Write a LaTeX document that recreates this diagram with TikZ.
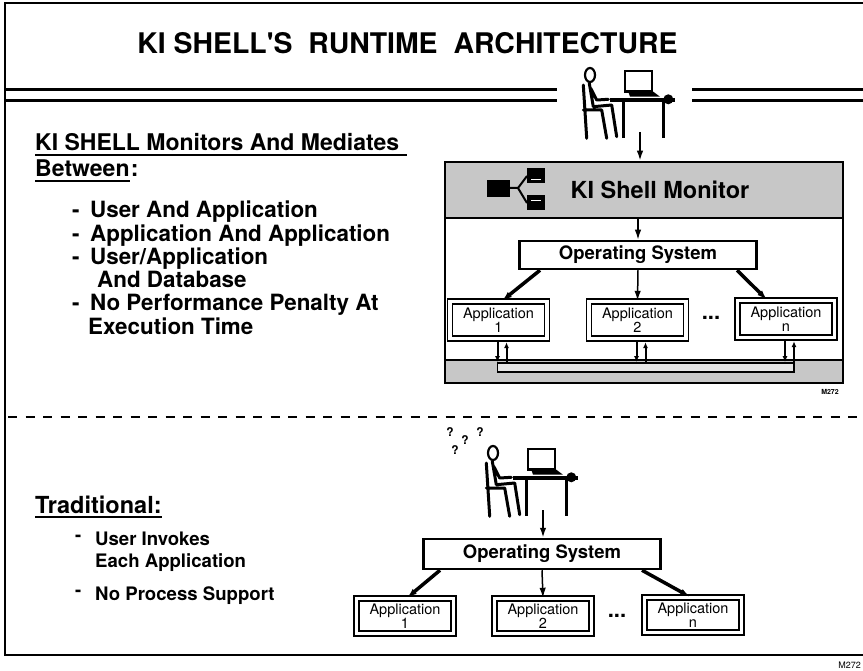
\documentclass[tikz,border=0pt]{standalone}
\usepackage{fontspec}
\setmainfont{TeX Gyre Heros}
\usepackage{tikz}
\usetikzlibrary{arrows.meta}
\definecolor{screen}{gray}{0.78}
\definecolor{pipe}{gray}{0.9}
\tikzset{ box/.style = {rectangle, draw, line width=2.5pt, inner sep=0pt} }
\tikzset{ os_box/.style = {box, minimum width=237pt, minimum height=28pt, font=\fontsize{18.5}{18}\selectfont\bfseries} }
\tikzset{ app_box/.style = {rectangle, draw, line width=1.4pt, double, double distance=3.5pt, minimum width=97pt, minimum height=37pt, inner sep=0pt, align=center, font=\fontsize{14.5}{14}\selectfont} }
\tikzset{ txt/.style = {inner sep=0pt, anchor=base west} }
\tikzset{ uline/.style = {line width=2pt} }
\tikzset{ small_tip/.style = {line width=2pt, >={Latex[length=6pt,width=5pt]}} }
\tikzset{ deskuser/.pic = {
    \draw[line width=2.2pt] (-50,-25) ellipse [x radius=5pt, y radius=7pt];
    \draw[line width=3pt, line cap=round, line join=round]
      (-56.7,-15) -- (-53.3,38.3)
      (-56.7,10) -- (-38.3,10) -- (-33.3,38.3)
      (-50.7,-16.7) -- (-46.7,6.7) -- (-28.3,5) -- (-23.3,36.7)
      (-49.3,-11.7) -- (-43.3,0) -- (-31.7,-0.7);
    \draw[line width=3.5pt] (-30,0) -- (35,0);
    \draw[line width=3pt] (-16.7,0) -- (-16.7,38.3) (23.3,0) -- (23.3,38.3);
    \draw[line width=2.8pt, fill=white] (-15,-29) rectangle (12,-8.3);
    \fill (-11.7,-8.3) -- (13.3,-8.3) -- (20,-3.3) -- (-10,-3.3) -- cycle;
    \fill (28.3,-0.7) circle [radius=5pt];
    \coordinate (-foot) at (0,32);
} }

\begin{document}
\begin{tikzpicture}[x=1pt, y=-1pt, >={Latex[length=10pt,width=6.5pt]}]
    \useasboundingbox (0,0) rectangle (863,671);
    \draw[line width=2.5pt] (863,3) -- (5,3) -- (5,655) -- (863,655);
    \draw[line width=3pt] (5,90) -- (557,90) (5,101) -- (557,101);
    \draw[line width=3pt] (692,90) -- (863,90) (692,101) -- (863,101);
    \draw[line width=2.5pt, dash pattern=on 9pt off 8.5pt] (8,417) -- (863,417);

    \node[font=\fontsize{28.4}{30}\selectfont\bfseries] (title) at (407.5,43) {KI SHELL\textquotesingle S\hspace{8pt} RUNTIME\hspace{8pt} ARCHITECTURE};

    % with the shell
    \node[txt, font=\fontsize{23}{23}\selectfont\bfseries] (h1) at (35,151) {KI SHELL Monitors And Mediates};
    \node[txt, font=\fontsize{23}{23}\selectfont\bfseries] (h2) at (35,177) {Between};
    \node[txt, font=\fontsize{23}{23}\selectfont\bfseries] (h2c) at ([xshift=1pt]h2.base east) {:};
    \draw[uline] ([yshift=-4pt]h1.base west) -- ([xshift=8pt,yshift=-4pt]h1.base east);
    \draw[uline] ([yshift=-4pt]h2.base west) -- ([yshift=-4pt]h2.base east);
    \node[txt, font=\fontsize{22.4}{22.4}\selectfont\bfseries] (l1) at (72,218) {\begin{tabular}[t]{@{}l@{\hspace{10.5pt}}l@{}}
        - & User And Application\\
        - & Application And Application\\
        - & User/Application\\
          & \hspace*{7pt}And Database\\
        - & No Performance Penalty At\\
          & \hspace*{-2pt}Execution Time
    \end{tabular}};

    \pic (top) at (640,100) {deskuser};
    \node[box, fill=white, minimum width=398pt, minimum height=221pt] (mon) at (644,272.5) {};
    \node[box, fill=screen, minimum width=398pt, minimum height=56pt] (hdr) at (644,190) {};
    \node[box, fill=screen, minimum width=398pt, minimum height=23pt] (bus) at (644,371.5) {};
    \node[box, fill=pipe, line width=1.8pt, minimum width=296.5pt, minimum height=9pt] (chan) at (645.75,367.5) {};
    \fill (487,180) rectangle (510,197);
    \fill (527,168) rectangle (545,183);
    \fill (527,195) rectangle (545,210);
    \draw[line width=2pt] (510,188) -- (518,188) -- (527,176) (518,188) -- (527,203);
    \draw[white, line width=1pt] (531,180) -- (541,180) (531,201) -- (541,201);
    \node[font=\fontsize{23.5}{24}\selectfont\bfseries] (mtxt) at (660,190) {KI Shell Monitor};
    \node[os_box] (os1) at (638,255) {Operating System};
    \node[app_box] (a1) at (498.5,320) {Application\\1};
    \node[app_box] (a2) at (637.5,320) {Application\\2};
    \node[app_box] (an) at (786,319) {Application\\n};
    \node[font=\fontsize{22}{22}\selectfont\bfseries] (d1) at (711,318) {...};
    \node[font=\fontsize{7}{7}\selectfont\bfseries] (c1) at (830,392) {M272};

    \draw[->, line width=1.8pt] (top-foot) -- (top-foot |- hdr.north);
    \draw[->, line width=1.5pt] (hdr.south -| os1.north) -- (os1.north);
    \draw[->, line width=3.5pt] ([xshift=-98pt]os1.south) -- ([xshift=3.5pt]a1.north);
    \draw[->, line width=1.5pt] (os1.south) -- (a2.north);
    \draw[->, line width=3.5pt] ([xshift=99pt]os1.south) -- ([xshift=-19pt]an.north);
    \draw[->, small_tip] ([xshift=-1pt,yshift=-3pt]a1.south) -- ([xshift=-1pt]a1.south |- chan.north);
    \draw[<-, small_tip] ([xshift=8pt,yshift=-3pt]a1.south) -- ([xshift=8pt]a1.south |- chan.north);
    \draw[->, small_tip] ([xshift=-1pt,yshift=-3pt]a2.south) -- ([xshift=-1pt]a2.south |- chan.north);
    \draw[<-, small_tip] ([xshift=8pt,yshift=-3pt]a2.south) -- ([xshift=8pt]a2.south |- chan.north);
    \draw[->, small_tip] ([xshift=-1pt,yshift=-3pt]an.south) -- ([xshift=-1pt]an.south |- chan.north);
    \draw[<-, small_tip] ([xshift=8pt,yshift=-3pt]an.south) -- ([xshift=8pt]an.south |- chan.north);

    % without it
    \node[txt, font=\fontsize{23.5}{24}\selectfont\bfseries] (trad) at (35,513) {Traditional:};
    \draw[uline] ([yshift=-4pt]trad.base west) -- ([yshift=-4pt]trad.base east);
    \node[txt, font=\fontsize{18.6}{22}\selectfont\bfseries] (m1) at (75,541) {-};
    \node[txt, font=\fontsize{18.6}{22}\selectfont\bfseries] (t1) at (95,545) {User Invokes};
    \node[txt, font=\fontsize{18.6}{22}\selectfont\bfseries] (t2) at (95,567) {Each Application};
    \node[txt, font=\fontsize{18.6}{22}\selectfont\bfseries] (m2) at (75,596) {-};
    \node[txt, font=\fontsize{18.6}{22}\selectfont\bfseries] (t3) at (95,600) {No Process Support};

    \pic (bot) at (543,478) {deskuser};
    \node[font=\fontsize{12}{12}\selectfont\bfseries] (q1) at (450,432) {?};
    \node[font=\fontsize{12}{12}\selectfont\bfseries] (q2) at (465,440) {?};
    \node[font=\fontsize{12}{12}\selectfont\bfseries] (q3) at (480,432) {?};
    \node[font=\fontsize{12}{12}\selectfont\bfseries] (q4) at (455,450) {?};
    \node[os_box, minimum height=30pt] (os2) at (542,554) {Operating System};
    \node[app_box, minimum height=35pt] (b1) at (405,616) {Application\\1};
    \node[app_box, minimum height=35pt] (b2) at (543,616) {Application\\2};
    \node[app_box, minimum height=35pt] (bn) at (693,615) {Application\\n};
    \node[font=\fontsize{22}{22}\selectfont\bfseries] (d2) at (617,616) {...};
    \node[inner sep=0pt, anchor=base east, font=\fontsize{9}{9}\selectfont] (c2) at (861,668) {M272};

    \draw[->, line width=1.8pt] (bot-foot) -- (bot-foot |- os2.north);
    \draw[->, line width=3.5pt] ([xshift=-102pt]os2.south) -- ([xshift=2pt]b1.north);
    \draw[->, line width=1.5pt] (os2.south) -- (b2.north);
    \draw[->, line width=3.5pt] ([xshift=100pt]os2.south) -- ([xshift=-3pt]bn.north);
\end{tikzpicture}
\end{document}
